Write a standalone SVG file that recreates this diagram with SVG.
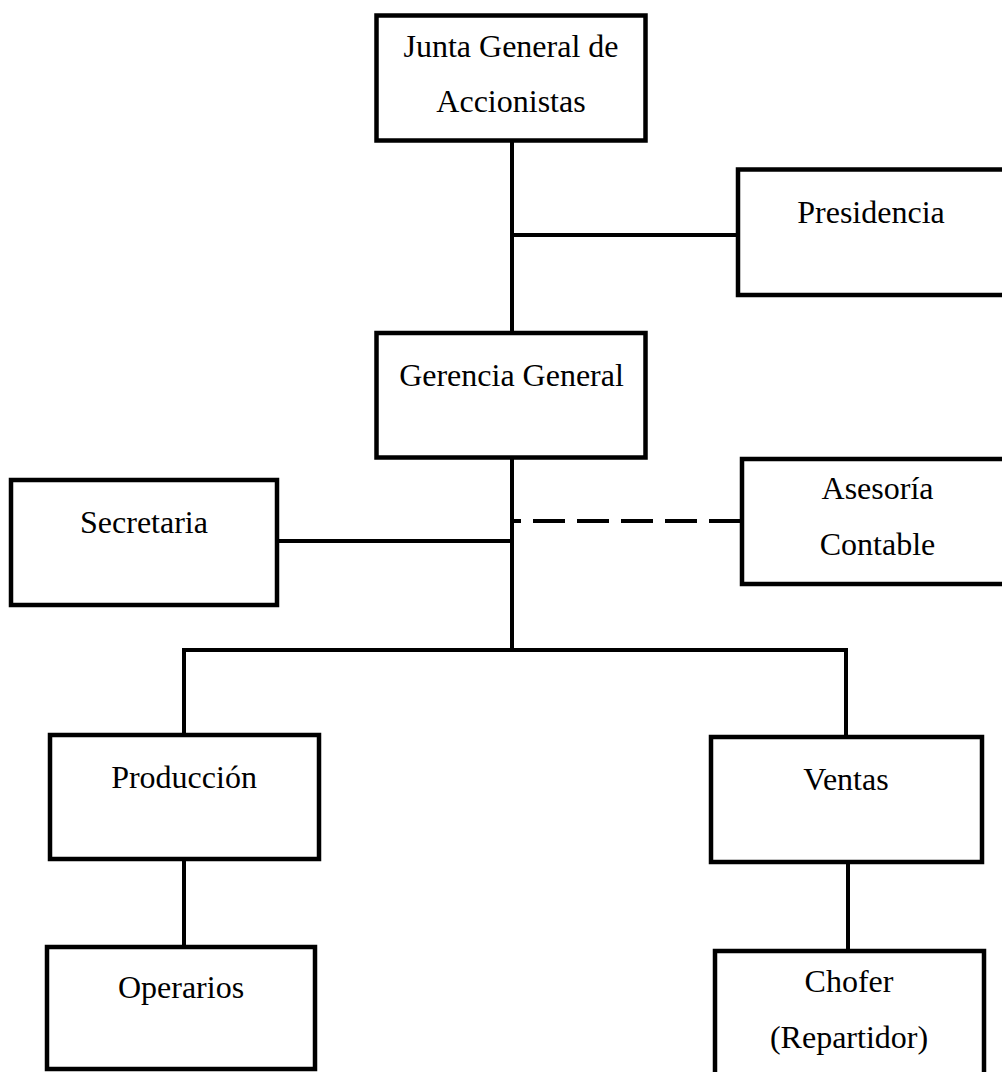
<svg xmlns="http://www.w3.org/2000/svg" width="1002" height="1072" viewBox="0 0 1002 1072">
<style>
.box{fill:#fff;stroke:#000;stroke-width:4.5}
.ln{stroke:#000;stroke-width:4;fill:none}
.dash{stroke-dasharray:32 12;stroke-dashoffset:23}
text{font-family:"Liberation Serif","Times New Roman",serif;font-size:32px;fill:#000;text-anchor:middle}
</style>
<rect width="1002" height="1072" fill="#fff"/>
<g id="connectors">
<line class="ln" x1="512" y1="140" x2="512" y2="333"/>
<line class="ln" x1="512" y1="235" x2="738" y2="235"/>
<line class="ln" x1="512" y1="457" x2="512" y2="652"/>
<line class="ln" x1="277" y1="541" x2="512" y2="541"/>
<line class="ln dash" x1="512" y1="521" x2="742" y2="521"/>
<line class="ln" x1="182" y1="650" x2="848" y2="650"/>
<line class="ln" x1="184" y1="648" x2="184" y2="735"/>
<line class="ln" x1="846" y1="648" x2="846" y2="737"/>
<line class="ln" x1="184" y1="859" x2="184" y2="947"/>
<line class="ln" x1="848" y1="862" x2="848" y2="951"/>
</g>
<g id="junta">
<rect class="box" x="376.5" y="15.5" width="269" height="125"/>
<text x="511" y="57">Junta General de</text>
<text x="511" y="112">Accionistas</text>
</g>
<g id="presidencia">
<rect class="box" x="738" y="169.5" width="268" height="125.5"/>
<text x="871" y="223">Presidencia</text>
</g>
<g id="gerencia">
<rect class="box" x="376.5" y="333" width="269" height="124.5"/>
<text x="511.5" y="386">Gerencia General</text>
</g>
<g id="secretaria">
<rect class="box" x="11" y="480" width="266" height="125"/>
<text x="144" y="533">Secretaria</text>
</g>
<g id="asesoria">
<rect class="box" x="742" y="459" width="270" height="125"/>
<text x="877.5" y="499">Asesoría</text>
<text x="877.5" y="555">Contable</text>
</g>
<g id="produccion">
<rect class="box" x="50" y="735" width="269" height="124"/>
<text x="184" y="788">Producción</text>
</g>
<g id="ventas">
<rect class="box" x="711" y="737" width="271" height="125"/>
<text x="846" y="790">Ventas</text>
</g>
<g id="operarios">
<rect class="box" x="47" y="947" width="268" height="122"/>
<text x="181" y="998">Operarios</text>
</g>
<g id="chofer">
<rect class="box" x="715" y="951" width="269" height="126"/>
<text x="849" y="992">Chofer</text>
<text x="849" y="1048">(Repartidor)</text>
</g>
</svg>
